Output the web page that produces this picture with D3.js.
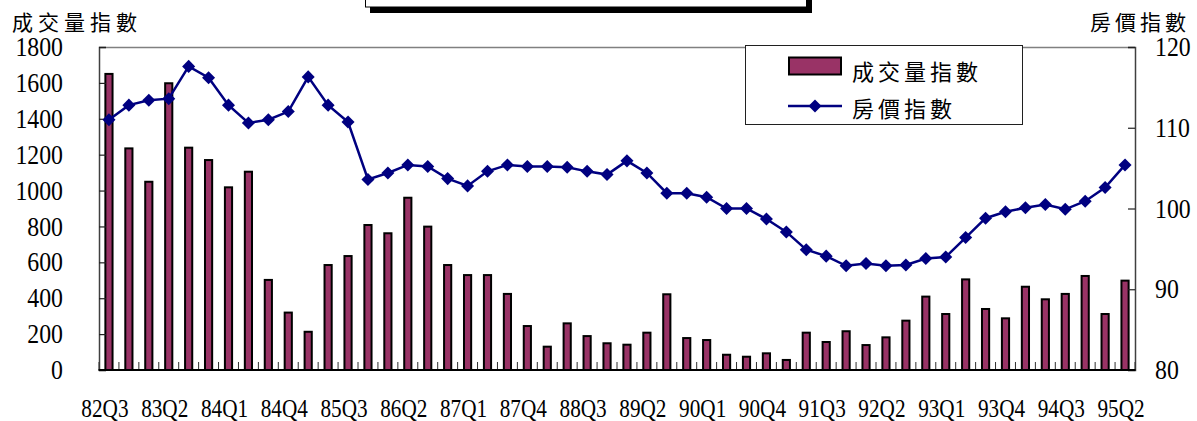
<!DOCTYPE html>
<html>
<head>
<meta charset="utf-8">
<script src="https://cdn.jsdelivr.net/npm/d3@7"></script>
<style>
  html, body { margin: 0; padding: 0; background: #fff; }
  svg { display: block; }
  .num { font-family: "Liberation Serif", "DejaVu Serif", serif; fill: #000; }
  .cjk { font-family: "Noto Sans CJK TC", "Noto Sans CJK SC", sans-serif; fill: #000; }
</style>
</head>
<body>
<svg id="chart" width="1197" height="421"></svg>
<script>
// Quarter labels (ROC year + quarter)
const quarters = [
  "82Q3","82Q4",
  "83Q1","83Q2","83Q3","83Q4",
  "84Q1","84Q2","84Q3","84Q4",
  "85Q1","85Q2","85Q3","85Q4",
  "86Q1","86Q2","86Q3","86Q4",
  "87Q1","87Q2","87Q3","87Q4",
  "88Q1","88Q2","88Q3","88Q4",
  "89Q1","89Q2","89Q3","89Q4",
  "90Q1","90Q2","90Q3","90Q4",
  "91Q1","91Q2","91Q3","91Q4",
  "92Q1","92Q2","92Q3","92Q4",
  "93Q1","93Q2","93Q3","93Q4",
  "94Q1","94Q2","94Q3","94Q4",
  "95Q1","95Q2"
];

// 成交量指數 (left axis)
const volumeIndex = [
  1650,1235,1049,1598,1239,1170,1018,1105,502,320,213,585,635,
  808,762,960,799,585,529,529,424,245,130,260,189,149,141,
  208,422,178,167,85,74,93,56,208,156,216,139,182,275,
  409,312,505,340,288,464,394,424,524,312,498
];

// 房價指數 (right axis)
const priceIndex = [
  111.0,112.8,113.4,113.6,117.6,116.2,112.8,110.6,111.0,112.0,116.3,112.8,110.7,
  103.6,104.4,105.4,105.2,103.7,102.8,104.6,105.4,105.2,105.2,105.1,104.6,104.2,105.9,
  104.4,101.9,101.9,101.4,100.0,100.0,98.7,97.1,94.9,94.1,92.9,93.2,92.9,93.0,
  93.8,94.0,96.4,98.8,99.6,100.1,100.5,99.9,100.9,102.6,105.4
];

const leftTicks = [0,200,400,600,800,1000,1200,1400,1600,1800];
const rightTicks = [80,90,100,110,120];
const seriesNames = ["成交量指數", "房價指數"];

const svg = d3.select("#chart");
const plot = { left: 99, right: 1135, top: 47, bottom: 370 };

const x = d3.scaleBand().domain(quarters).range([plot.left, plot.right]).padding(0);
const yL = d3.scaleLinear().domain([0, 1800]).range([plot.bottom, plot.top]);
const yR = d3.scaleLinear().domain([80, 120]).range([plot.bottom, plot.top]);

const barColor = "#993366";
const lineColor = "#000080";
const numScale = 0.85;

// Header box with drop shadow at the top edge
svg.append("rect").attr("x", 370).attr("y", -5).attr("width", 442).attr("height", 18).attr("fill", "#000");
svg.append("rect").attr("x", 365.5).attr("y", -5).attr("width", 441).attr("height", 12)
  .attr("fill", "#fff").attr("stroke", "#000").attr("stroke-width", 1);

// Plot frame top edge
svg.append("line").attr("x1", plot.left).attr("x2", plot.right)
  .attr("y1", plot.top + 0.5).attr("y2", plot.top + 0.5)
  .attr("stroke", "#808080").attr("stroke-width", 1.5);

// Bars
const barW = x.bandwidth() * 0.36;
svg.append("g").selectAll("rect").data(volumeIndex).join("rect")
  .attr("x", (d, i) => x(quarters[i]) + x.bandwidth() / 2 - barW / 2)
  .attr("y", d => yL(d))
  .attr("width", barW)
  .attr("height", d => yL(0) - yL(d))
  .attr("fill", barColor)
  .attr("stroke", "#000")
  .attr("stroke-width", 2);

// Left axis (ticks point inward)
const axL = svg.append("g").attr("transform", `translate(${plot.left},0)`)
  .call(d3.axisRight(yL).tickValues(leftTicks).tickSize(7).tickFormat(""));
axL.select(".domain").attr("stroke", "#404040").attr("stroke-width", 1.5);
axL.selectAll(".tick line").attr("stroke", "#202020").attr("stroke-width", 1.2);

// Right axis (ticks point inward)
const axR = svg.append("g").attr("transform", `translate(${plot.right},0)`)
  .call(d3.axisLeft(yR).tickValues(rightTicks).tickSize(7).tickFormat(""));
axR.select(".domain").attr("stroke", "#404040").attr("stroke-width", 1.5);
axR.selectAll(".tick line").attr("stroke", "#202020").attr("stroke-width", 1.2);

// Bottom axis with category separators pointing up
const bounds = quarters.map(q => x(q)).concat([plot.right]);
svg.append("g").selectAll("line").data(bounds).join("line")
  .attr("x1", d => d).attr("x2", d => d)
  .attr("y1", plot.bottom).attr("y2", plot.bottom - 8)
  .attr("stroke", "#303030").attr("stroke-width", 1);
svg.append("line").attr("x1", plot.left - 0.5).attr("x2", plot.right + 0.5)
  .attr("y1", plot.bottom).attr("y2", plot.bottom)
  .attr("stroke", "#000").attr("stroke-width", 2);

// Left tick labels
svg.append("g").selectAll("text").data(leftTicks).join("text")
  .attr("class", "num")
  .attr("transform", d => `translate(63,${yL(d)}) scale(${numScale},1)`)
  .attr("text-anchor", "end")
  .attr("dominant-baseline", "central")
  .attr("font-size", 28)
  .text(d => d);

// Right tick labels
svg.append("g").selectAll("text").data(rightTicks).join("text")
  .attr("class", "num")
  .attr("transform", d => `translate(1155,${yR(d)}) scale(${numScale},1)`)
  .attr("text-anchor", "start")
  .attr("dominant-baseline", "central")
  .attr("font-size", 28)
  .text(d => d);

// Category labels, every third quarter
const labelled = quarters.filter((q, i) => i % 3 === 0);
svg.append("g").selectAll("text").data(labelled).join("text")
  .attr("class", "num")
  .attr("transform", d => `translate(${x(d) + x.bandwidth() / 2 - 4},408) scale(${numScale},1)`)
  .attr("text-anchor", "middle")
  .attr("dominant-baseline", "central")
  .attr("font-size", 25)
  .text(d => d);

// Price line with diamond markers
const line = d3.line()
  .x((d, i) => x(quarters[i]) + x.bandwidth() / 2)
  .y(d => yR(d));
svg.append("path").datum(priceIndex)
  .attr("d", line).attr("fill", "none")
  .attr("stroke", lineColor).attr("stroke-width", 2.5);
svg.append("g").selectAll("path").data(priceIndex).join("path")
  .attr("d", d3.symbol().type(d3.symbolSquare).size(85))
  .attr("transform", (d, i) => `translate(${x(quarters[i]) + x.bandwidth() / 2},${yR(d)}) rotate(45)`)
  .attr("fill", lineColor);

// Axis titles
svg.append("text").attr("class", "cjk")
  .attr("x", 12).attr("y", 21).attr("dominant-baseline", "central")
  .attr("font-size", 21).attr("letter-spacing", 5)
  .text(seriesNames[0]);
svg.append("text").attr("class", "cjk")
  .attr("x", 1090).attr("y", 21).attr("dominant-baseline", "central")
  .attr("font-size", 21).attr("letter-spacing", 4)
  .text(seriesNames[1]);

// Legend
const lg = svg.append("g");
lg.append("rect").attr("x", 745.5).attr("y", 45.5).attr("width", 277).attr("height", 79)
  .attr("fill", "#fff").attr("stroke", "#202020").attr("stroke-width", 1);
lg.append("rect").attr("x", 789).attr("y", 57.5).attr("width", 52).attr("height", 17)
  .attr("fill", barColor).attr("stroke", "#000").attr("stroke-width", 2);
lg.append("text").attr("class", "cjk")
  .attr("x", 852).attr("y", 70).attr("dominant-baseline", "central")
  .attr("font-size", 22).attr("letter-spacing", 4).text(seriesNames[0]);
lg.append("line").attr("x1", 788).attr("x2", 842).attr("y1", 106).attr("y2", 106)
  .attr("stroke", lineColor).attr("stroke-width", 2.5);
lg.append("path").attr("d", d3.symbol().type(d3.symbolSquare).size(85))
  .attr("transform", "translate(815,106) rotate(45)").attr("fill", lineColor);
lg.append("text").attr("class", "cjk")
  .attr("x", 852).attr("y", 107).attr("dominant-baseline", "central")
  .attr("font-size", 22).attr("letter-spacing", 4).text(seriesNames[1]);
</script>
</body>
</html>
